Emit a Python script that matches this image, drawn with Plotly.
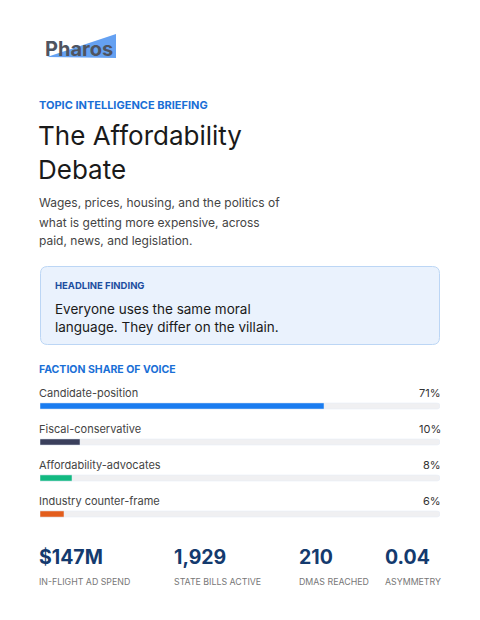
import plotly.graph_objects as go

factions = ["Candidate-position", "Fiscal-conservative", "Affordability-advocates", "Industry counter-frame"]
shares = [71, 10, 8, 6]
colors = ["#1a7cf0", "#3a3f5c", "#12b981", "#e35d1c"]
stat_values = ["$147M", "1,929", "210", "0.04"]
stat_labels = ["IN-FLIGHT AD SPEND", "STATE BILLS ACTIVE", "DMAS REACHED", "ASYMMETRY"]

W, H = 480, 620
OFF = 8  # page body margin
F = "Inter"
idx = list(range(len(factions)))

fig = go.Figure()
fig.add_trace(go.Bar(x=[100]*len(idx), y=idx, orientation="h", width=0.17,
                     marker=dict(color="#f0f0f2", cornerradius="50%"), hoverinfo="skip"))
fig.add_trace(go.Bar(x=shares, y=idx, orientation="h", width=0.17,
                     marker=dict(color=colors, cornerradius="50%"), hoverinfo="skip"))

def py(p):
    return 1 - (p - OFF) / H
def px(p):
    return (p - OFF) / W

ann = []
def t(x, y, s, size, color, bold=False, anchor="left"):
    dx = -2 if anchor == "left" else 2
    ann.append(dict(x=px(x + dx), y=py(y), xref="paper", yref="paper", text=f"<b>{s}</b>" if bold else s,
                    showarrow=False, xanchor=anchor, yanchor="middle", borderpad=0,
                    font=dict(family=F, size=size, color=color)))

t(46, 49, "Pharos", 20, "#4f5460", bold=True)
t(40, 105, "TOPIC INTELLIGENCE BRIEFING", 11, "#1a6fd6", bold=True)
t(39, 135, "The Affordability", 26, "#1a1a1a")
t(39, 170, "Debate", 26, "#1a1a1a")
for i, line in enumerate(["Wages, prices, housing, and the politics of",
                          "what is getting more expensive, across",
                          "paid, news, and legislation."]):
    t(40, 203 + 19 * i, line, 12, "#444")
t(56, 285, "HEADLINE FINDING", 9.5, "#1d4ea0", bold=True)
t(56, 309, "Everyone uses the same moral", 13.5, "#1a1a1a")
t(56, 327, "language. They differ on the villain.", 13.5, "#1a1a1a")
t(40, 369, "FACTION SHARE OF VOICE", 10.5, "#1a6fd6", bold=True)
for i, (f, s) in enumerate(zip(factions, shares)):
    t(40, 393 + 36 * i, f, 11, "#444")
    t(440, 393 + 36 * i, f"{s}%", 11, "#333", anchor="right")
for x, v, l in zip([40, 175, 300, 386], stat_values, stat_labels):
    t(x, 557, v, 19.5, "#143a6e", bold=True)
    t(x, 581, l, 8.8, "#777")

shapes = [
    dict(type="path", xref="paper", yref="paper", layer="below",
         path=f"M {px(47)},{py(57)} L {px(116)},{py(34)} L {px(116)},{py(58)} Z",
         fillcolor="#4a90f0", line=dict(width=0), opacity=0.85),
]
r = 7; x0, x1, y0, y1 = 40.5, 439.5, 266.5, 344.5
def P(x, y): return f"{px(x)},{py(y)}"
shapes.append(dict(type="path", xref="paper", yref="paper", layer="below",
    path=(f"M {P(x0+r,y0)} L {P(x1-r,y0)} Q {P(x1,y0)} {P(x1,y0+r)} L {P(x1,y1-r)} Q {P(x1,y1)} {P(x1-r,y1)} "
          f"L {P(x0+r,y1)} Q {P(x0,y1)} {P(x0,y1-r)} L {P(x0,y0+r)} Q {P(x0,y0)} {P(x0+r,y0)} Z"),
    fillcolor="#eaf2fd", line=dict(color="#bcd6f5", width=1)))

top = 406 - OFF
fig.update_layout(
    width=W, height=H, margin=dict(l=0, r=0, t=0, b=0),
    paper_bgcolor="white", plot_bgcolor="rgba(0,0,0,0)",
    barmode="overlay", showlegend=False,
    xaxis=dict(range=[0, 100], domain=[px(40), px(440)], visible=False, fixedrange=True),
    yaxis=dict(range=[(H - top) / 36, -top / 36], domain=[0, 1], visible=False, fixedrange=True),
    annotations=ann, shapes=shapes,
)
fig.write_html("out.html", config={"displayModeBar": False})
